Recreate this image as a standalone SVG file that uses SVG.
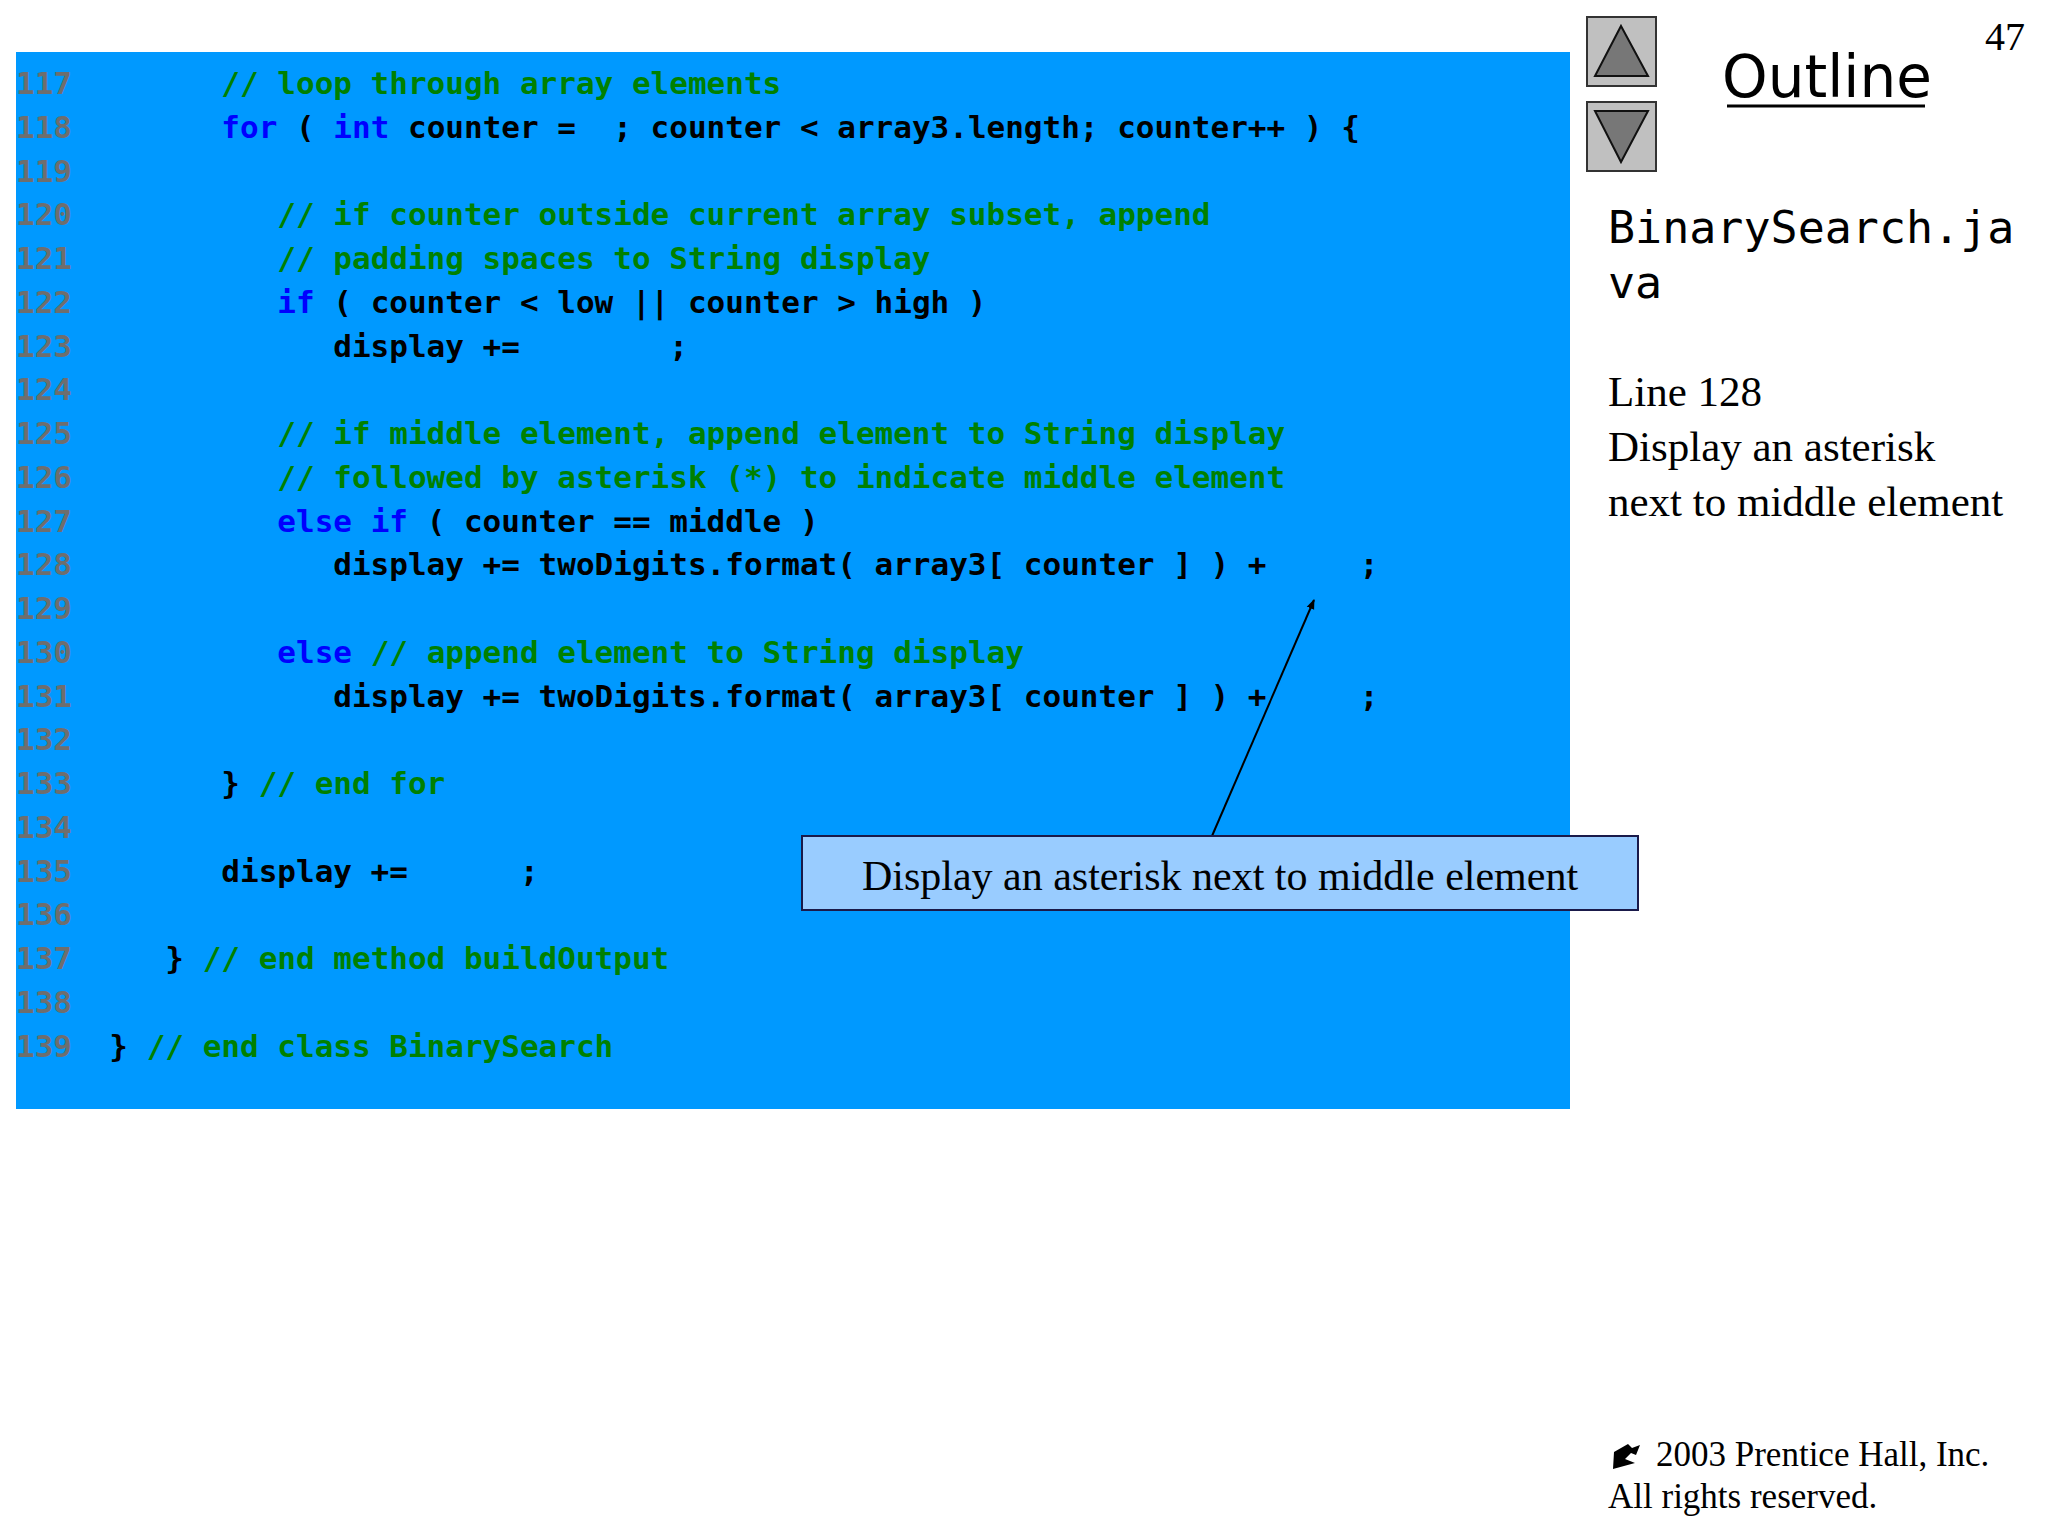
<svg xmlns="http://www.w3.org/2000/svg" width="2048" height="1536" viewBox="0 0 2048 1536">
<style>
.code{font-family:"DejaVu Sans Mono",monospace;font-weight:bold;font-size:31px;fill:#000}
.n{fill:#6e6e6e}.c{fill:#008000}.k{fill:#0000ff}
.serif{font-family:"Liberation Serif",serif;fill:#000}
</style>
<defs><marker id="ah" markerWidth="10" markerHeight="10" refX="9" refY="5" orient="auto" markerUnits="userSpaceOnUse"><path d="M0,1 L10,5 L0,9 z" fill="#000"/></marker></defs>
<rect x="0" y="0" width="2048" height="1536" fill="#fff"/>
<g id="code">
<rect x="16" y="52" width="1554" height="1057" fill="#0099ff"/>
<text class="code" xml:space="preserve">
<tspan x="16" y="94"><tspan class="n">117</tspan>        <tspan class="c">// loop through array elements</tspan></tspan>
<tspan x="16" y="138"><tspan class="n">118</tspan>        <tspan class="k">for</tspan> ( <tspan class="k">int</tspan> counter =  ; counter &lt; array3.length; counter++ ) {</tspan>
<tspan x="16" y="182"><tspan class="n">119</tspan></tspan>
<tspan x="16" y="225"><tspan class="n">120</tspan>           <tspan class="c">// if counter outside current array subset, append</tspan></tspan>
<tspan x="16" y="269"><tspan class="n">121</tspan>           <tspan class="c">// padding spaces to String display</tspan></tspan>
<tspan x="16" y="313"><tspan class="n">122</tspan>           <tspan class="k">if</tspan> ( counter &lt; low || counter &gt; high )</tspan>
<tspan x="16" y="357"><tspan class="n">123</tspan>              display +=        ;</tspan>
<tspan x="16" y="400"><tspan class="n">124</tspan></tspan>
<tspan x="16" y="444"><tspan class="n">125</tspan>           <tspan class="c">// if middle element, append element to String display</tspan></tspan>
<tspan x="16" y="488"><tspan class="n">126</tspan>           <tspan class="c">// followed by asterisk (*) to indicate middle element</tspan></tspan>
<tspan x="16" y="532"><tspan class="n">127</tspan>           <tspan class="k">else if</tspan> ( counter == middle )</tspan>
<tspan x="16" y="575"><tspan class="n">128</tspan>              display += twoDigits.format( array3[ counter ] ) +     ;</tspan>
<tspan x="16" y="619"><tspan class="n">129</tspan></tspan>
<tspan x="16" y="663"><tspan class="n">130</tspan>           <tspan class="k">else</tspan> <tspan class="c">// append element to String display</tspan></tspan>
<tspan x="16" y="707"><tspan class="n">131</tspan>              display += twoDigits.format( array3[ counter ] ) +     ;</tspan>
<tspan x="16" y="750"><tspan class="n">132</tspan></tspan>
<tspan x="16" y="794"><tspan class="n">133</tspan>        } <tspan class="c">// end for</tspan></tspan>
<tspan x="16" y="838"><tspan class="n">134</tspan></tspan>
<tspan x="16" y="882"><tspan class="n">135</tspan>        display +=      ;</tspan>
<tspan x="16" y="925"><tspan class="n">136</tspan></tspan>
<tspan x="16" y="969"><tspan class="n">137</tspan>     } <tspan class="c">// end method buildOutput</tspan></tspan>
<tspan x="16" y="1013"><tspan class="n">138</tspan></tspan>
<tspan x="16" y="1057"><tspan class="n">139</tspan>  } <tspan class="c">// end class BinarySearch</tspan></tspan>
</text>
</g>
<g id="connectors">
<line x1="1212" y1="836" x2="1314" y2="600" stroke="#000" stroke-width="2" marker-end="url(#ah)"/>
</g>
<g id="callout">
<rect x="802" y="836" width="836" height="74" fill="#99ccff" stroke="#1a1a4a" stroke-width="2"/>
<text class="serif" x="1220" y="890" font-size="42" text-anchor="middle">Display an asterisk next to middle element</text>
</g>
<g id="nav">
<rect x="1587" y="17" width="69" height="69" fill="#c0c0c0" stroke="#333" stroke-width="2"/>
<path d="M1621,26 L1648,76 L1595,76 z" fill="#777" stroke="#111" stroke-width="2"/>
<rect x="1587" y="102" width="69" height="69" fill="#c0c0c0" stroke="#333" stroke-width="2"/>
<path d="M1595,111 L1648,111 L1621,162 z" fill="#777" stroke="#111" stroke-width="2"/>
<text x="1827" y="97" font-family="DejaVu Sans,sans-serif" font-size="58" text-anchor="middle" fill="#000">Outline</text>
<line x1="1727" y1="106" x2="1925" y2="106" stroke="#000" stroke-width="3"/>
<text class="serif" x="2025" y="50" font-size="40" text-anchor="end">47</text>
</g>
<g id="side">
<text x="1608" y="243" font-family="DejaVu Sans Mono,monospace" font-size="45" fill="#000">BinarySearch.ja</text>
<text x="1608" y="298" font-family="DejaVu Sans Mono,monospace" font-size="45" fill="#000">va</text>
<text class="serif" font-size="43"><tspan x="1608" y="406">Line 128</tspan><tspan x="1608" y="461">Display an asterisk</tspan><tspan x="1608" y="516">next to middle element</tspan></text>
</g>
<g id="footer">
<path d="M1614,1452 l14,-8 l4,4 l8,-3 l-4,10 l-5,-2 l-6,6 l10,4 l-22,6 z" fill="#000"/>
<text class="serif" font-size="35"><tspan x="1656" y="1466">2003 Prentice Hall, Inc.</tspan><tspan x="1608" y="1508">All rights reserved.</tspan></text>
</g>
</svg>
